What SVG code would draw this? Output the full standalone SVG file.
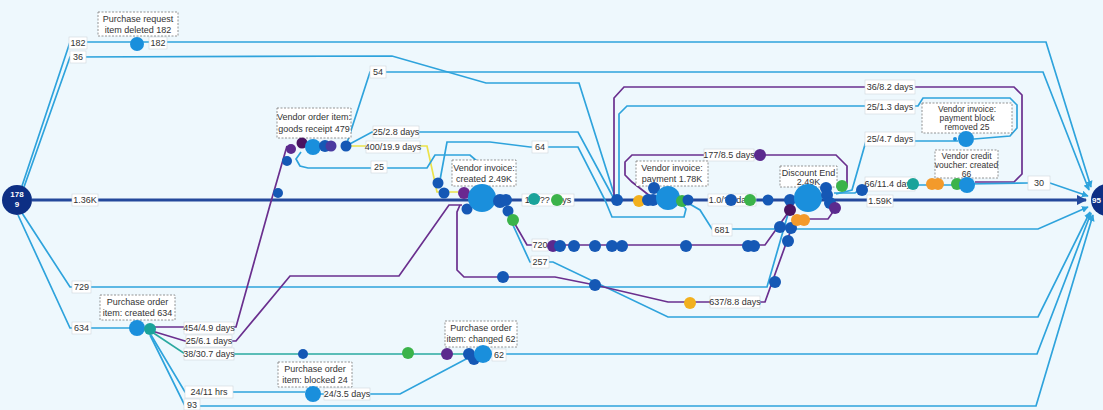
<svg xmlns="http://www.w3.org/2000/svg" width="1103" height="410" viewBox="0 0 1103 410">
<defs>
<style>
.e{fill:none;stroke:#2ea3dc;stroke-width:1.7}
.p{fill:none;stroke:#6a2f8e;stroke-width:1.7}
.t{fill:none;stroke:#2aa9a0;stroke-width:1.7}
.y{fill:none;stroke:#ece24a;stroke-width:1.7}
.m{fill:none;stroke:#24499c;stroke-width:3}
.lb rect{fill:#fff;stroke:#cfd6dc;stroke-width:.6}
.lb text{font-family:"Liberation Sans",Arial,sans-serif;font-size:9px;fill:#333;text-anchor:middle}
.bx{fill:#fff;stroke:#7a7a7a;stroke-width:.8;stroke-dasharray:2 1.5}
.bt{font-family:"Liberation Sans",Arial,sans-serif;font-size:9px;fill:#333;text-anchor:middle}
.b3{font-size:8.5px}
.nt{font-family:"Liberation Sans",Arial,sans-serif;font-size:8px;font-weight:bold;fill:#fff;text-anchor:middle}
.LB{fill:#1a8fdc}.DB{fill:#1558b5}.PU{fill:#5b2a8e}.DP{fill:#4a1461}.TE{fill:#1aa39a}.GR{fill:#3bb34a}.OR{fill:#f39a2b}.YO{fill:#f2b01e}.NV{fill:#0d2f84}
</style>
<marker id="ab" viewBox="0 0 10 10" refX="9" refY="5" markerWidth="4" markerHeight="4" orient="auto"><path d="M0,0 L10,5 L0,10 z" fill="#2ea3dc"/></marker>
<marker id="an" viewBox="0 0 10 10" refX="9" refY="5" markerWidth="3.5" markerHeight="3.5" orient="auto"><path d="M0,0 L10,5 L0,10 z" fill="#24499c"/></marker>
</defs>
<rect width="1103" height="410" fill="#eef8fd"/>

<g id="connectors">
<path class="m" d="M32,200 H1086" marker-end="url(#an)"/>
<path class="e" d="M22,186 L70,42 H1046 L1091,187" marker-end="url(#ab)"/>
<path class="e" d="M24,187 L70,57 L392,56 L486,83 L579,83 L615,197"/>
<path class="e" d="M346,146 L370,72 H1043 L1089,190" marker-end="url(#ab)"/>
<path class="e" d="M22,213 L70,287 H767 L788,214"/>
<path class="e" d="M18,215 L70,328 H130"/>
<path class="p" d="M152,327 H236 L270,205 L287,146"/>
<path class="p" d="M152,331 L185,341 H236 L290,276 H399 L449,205 H462"/>
<path class="t" d="M152,332 L185,354 H470"/>
<path class="e" d="M483,354 H1037 L1091,213" marker-end="url(#ab)"/>
<path class="e" d="M151,335 L185,392 H305"/>
<path class="e" d="M320,394 H400 L468,358"/>
<path class="e" d="M150,335 L185,406 H1036 L1093,215" marker-end="url(#ab)"/>
<path class="e" d="M346,146 L372,132 H578 L613,197"/>
<path class="y" d="M350,146 H427 L437,192 H458"/>
<path class="e" d="M301,152 L296,159 L300,166 L308,168 H427 L435,155 H470 L478,162 V190 L472,197"/>
<path class="e" d="M440,180 L447,142 H490 L530,147 H578 L605,200 L612,217 H684 L686,209 L681,203"/>
<path class="p" d="M508,212 L527,245 H765 L790,210"/>
<path class="e" d="M506,210 L530,262 H553 L668,317 H1038 L1090,212" marker-end="url(#ab)"/>
<path class="p" d="M460,205 L457,212 V270 L464,277 H555 L595,285 L668,302 H765 L792,227"/>
<path class="e" d="M688,203 L700,210 L712,229 H1038 L1088,207" marker-end="url(#ab)"/>
<path class="p" d="M614,198 V98 L624,87 H1014 L1022,95 V174 L1014,182 H975"/>
<path class="e" d="M619,196 V114 L627,106 H918 L923,98 H1010 L1017,105 V128 L1010,136 L974,139"/>
<path class="e" d="M836,194 L852,190 L866,141 H958"/>
<path class="p" d="M650,196 L632,182 L625,175 V162 L632,155 H836 L847,166 V186"/>
<path class="e" d="M834,193 H855 L866,185 H967"/>
<path class="e" d="M967,184 L1028,183 H1050 L1088,196" marker-end="url(#ab)"/>
<path class="p" d="M835,209 L828,219 H800"/>

<g class="lb">
<rect x="69" y="37" width="18" height="12"/><text x="78" y="46">182</text>
<rect x="149" y="37" width="18" height="12"/><text x="158" y="46">182</text>
<rect x="70" y="51" width="16" height="12"/><text x="78" y="60">36</text>
<rect x="72" y="194" width="26" height="12"/><text x="85" y="203">1.36K</text>
<rect x="72" y="281" width="19" height="12"/><text x="81.5" y="290">729</text>
<rect x="72" y="322" width="19" height="12"/><text x="81.5" y="331">634</text>
<rect x="184" y="322" width="50" height="12"/><text x="209" y="331">454/4.9 days</text>
<rect x="186" y="335" width="46" height="12"/><text x="209" y="344">25/6.1 days</text>
<rect x="184" y="348" width="50" height="12"/><text x="209" y="357">38/30.7 days</text>
<rect x="185" y="386" width="48" height="12"/><text x="209" y="395">24/11 hrs</text>
<rect x="184" y="399" width="16" height="11"/><text x="192" y="407.5">93</text>
<rect x="324" y="388" width="46" height="12"/><text x="347" y="397">24/3.5 days</text>
<rect x="492" y="349" width="14" height="12"/><text x="499" y="358">62</text>
<rect x="370" y="66" width="16" height="12"/><text x="378" y="75">54</text>
<rect x="373" y="126" width="46" height="12"/><text x="396" y="135">25/2.8 days</text>
<rect x="366" y="141" width="54" height="12"/><text x="393" y="150">400/19.9 days</text>
<rect x="371" y="161" width="16" height="12"/><text x="379" y="170">25</text>
<rect x="532" y="141" width="16" height="12"/><text x="540" y="150">64</text>
<rect x="522" y="194" width="52" height="12"/><text x="548" y="203">1.0/?? days</text>
<rect x="532" y="239" width="16" height="12"/><text x="540" y="248">720</text>
<rect x="531" y="256" width="18" height="12"/><text x="540" y="265">257</text>
<rect x="710" y="296" width="50" height="12"/><text x="735" y="305">637/8.8 days</text>
<rect x="712" y="224" width="20" height="12"/><text x="722" y="233">681</text>
<rect x="708" y="194" width="48" height="12"/><text x="732" y="203">1.0/?? days</text>
<rect x="704" y="149" width="50" height="12"/><text x="729" y="158">177/8.5 days</text>
<rect x="867" y="195" width="26" height="12"/><text x="880" y="204">1.59K</text>
<rect x="865" y="80" width="50" height="14"/><text x="890" y="90">36/8.2 days</text>
<rect x="865" y="100" width="50" height="14"/><text x="890" y="110">25/1.3 days</text>
<rect x="865" y="132" width="50" height="14"/><text x="890" y="142">25/4.7 days</text>
<rect x="865" y="177" width="50" height="14"/><text x="890" y="187">66/11.4 days</text>
<rect x="1028" y="176" width="22" height="14"/><text x="1039" y="186">30</text>
</g>
</g>

<g id="start"><circle class="NV" cx="17" cy="200" r="15"/><text class="nt" x="17" y="197">178</text><text class="nt" x="17" y="207">9</text></g>
<g id="end"><circle class="NV" cx="1107" cy="200" r="16"/><text class="nt" x="1092" y="203" style="text-anchor:start">95</text></g>

<g id="pr-deleted"><rect class="bx" x="98" y="12" width="80" height="24"/><text class="bt" x="138" y="22">Purchase request</text><text class="bt" x="138" y="33">item deleted 182</text><circle class="LB" cx="137" cy="44" r="7"/></g>

<g id="po-created"><rect class="bx" x="100" y="295" width="75" height="25"/><text class="bt" x="137.5" y="305">Purchase order</text><text class="bt" x="137.5" y="316">item: created 634</text><circle class="LB" cx="137" cy="328" r="8"/><circle class="TE" cx="150" cy="329" r="6"/></g>

<g id="goods-receipt"><rect class="bx" x="277" y="108" width="74" height="30"/><text class="bt" x="314" y="120">Vendor order item:</text><text class="bt" x="314" y="132">goods receipt 479</text>
<circle class="PU" cx="291" cy="149" r="5"/><circle class="DP" cx="302" cy="143" r="5.5"/><circle class="LB" cx="313" cy="147" r="8"/><circle class="DB" cx="325" cy="146" r="6"/><circle fill="#4a3aa0" cx="331" cy="146" r="5.5"/><circle class="DB" cx="346" cy="146" r="5.5"/><circle class="DB" cx="287" cy="161" r="5"/><circle class="DB" cx="278" cy="193" r="5"/></g>

<g id="po-blocked"><rect class="bx" x="278" y="362" width="74" height="25"/><text class="bt" x="315" y="372">Purchase order</text><text class="bt" x="315" y="383">item: blocked 24</text><circle class="LB" cx="313" cy="394" r="8"/><circle class="DB" cx="303" cy="354" r="5"/></g>

<g id="po-changed"><rect class="bx" x="445" y="321" width="72" height="26"/><text class="bt" x="481" y="331">Purchase order</text><text class="bt" x="481" y="342">item: changed 62</text>
<circle class="GR" cx="408" cy="353" r="6"/><circle class="PU" cx="447" cy="354" r="6"/><circle class="DB" cx="469" cy="354" r="6"/><circle class="DB" cx="474" cy="359" r="6"/><circle class="LB" cx="483" cy="354" r="9"/></g>

<g id="vi-created"><rect class="bx" x="452" y="160" width="64" height="26"/><text class="bt" x="484" y="171">Vendor invoice:</text><text class="bt" x="484" y="182">created 2.49K</text>
<circle class="DB" cx="438" cy="183" r="5.5"/><circle class="DB" cx="444" cy="193" r="5.5"/><circle fill="#6a2890" cx="464" cy="193" r="6"/><circle class="DB" cx="467" cy="209" r="5.5"/>
<circle class="LB" cx="482" cy="198" r="14"/><circle class="DB" cx="500" cy="201" r="7"/><circle class="DB" cx="506" cy="200" r="6"/><circle class="DB" cx="508" cy="211" r="5.5"/><circle class="GR" cx="513" cy="220" r="6"/>
<circle class="TE" cx="534" cy="199" r="6"/><circle class="GR" cx="557" cy="200" r="6"/></g>

<g id="waypoints">
<circle class="PU" cx="553" cy="246" r="6"/><circle class="DB" cx="560" cy="246" r="6"/><circle class="DB" cx="574" cy="246" r="6"/><circle class="DB" cx="595" cy="246" r="6"/><circle class="DB" cx="612" cy="246" r="6"/><circle class="DB" cx="622" cy="246" r="6"/><circle class="DB" cx="686" cy="246" r="6"/><circle class="DB" cx="748" cy="246" r="6"/><circle class="DB" cx="754" cy="246" r="6"/>
<circle class="DB" cx="503" cy="277" r="6"/><circle class="DB" cx="595" cy="285" r="6"/><circle class="YO" cx="690" cy="303" r="6"/>
<circle class="DB" cx="775" cy="282" r="6"/><circle class="DB" cx="788" cy="241" r="6"/><circle class="DB" cx="780" cy="227" r="6"/><circle class="DB" cx="791" cy="228" r="6"/>
<circle class="PU" cx="760" cy="155" r="6"/>
</g>

<g id="vi-payment"><rect class="bx" x="636" y="161" width="72" height="25"/><text class="bt" x="672" y="171">Vendor invoice:</text><text class="bt" x="672" y="182">payment 1.78K</text>
<circle class="DB" cx="617" cy="200" r="6"/><circle class="YO" cx="639" cy="201" r="6"/><circle class="DB" cx="648" cy="200" r="6"/><circle class="DB" cx="653" cy="200" r="6"/><circle class="DB" cx="654" cy="188" r="6"/><circle class="LB" cx="668" cy="198" r="12"/><circle class="GR" cx="682" cy="201" r="6"/><circle class="DB" cx="688" cy="200" r="5.5"/>
<circle class="DB" cx="731" cy="200" r="6"/><circle class="GR" cx="750" cy="200" r="6"/><circle class="DB" cx="768" cy="200" r="5.5"/><circle class="DB" cx="790" cy="200" r="6"/></g>

<g id="discount-end"><rect class="bx" x="780" y="166" width="57" height="21"/><text class="bt" x="808.5" y="176">Discount End</text><text class="bt" x="808.5" y="185">2.49K</text>
<circle class="LB" cx="808" cy="198" r="14"/><circle class="DB" cx="826" cy="188" r="6"/><circle class="DB" cx="827" cy="195" r="6"/><circle class="DB" cx="830" cy="203" r="6"/><circle class="PU" cx="835" cy="208" r="6"/><circle class="GR" cx="842" cy="186" r="6"/><circle class="DP" cx="790" cy="210" r="6"/><circle class="OR" cx="797" cy="220" r="6"/><circle class="OR" cx="804" cy="220" r="6"/><circle class="DB" cx="862" cy="190" r="6"/></g>

<g id="payment-block-removed"><rect class="bx" x="922" y="103" width="90" height="30"/><text class="bt b3" x="967" y="112">Vendor invoice:</text><text class="bt b3" x="967" y="121">payment block</text><text class="bt b3" x="967" y="130">removed 25</text><circle class="LB" cx="966" cy="139" r="8"/><circle class="LB" cx="955" cy="139" r="2"/></g>

<g id="credit-voucher"><rect class="bx" x="935" y="150" width="63" height="28"/><text class="bt b3" x="966.5" y="159">Vendor credit</text><text class="bt b3" x="966.5" y="168">voucher: created</text><text class="bt b3" x="966.5" y="177">66</text>
<circle class="TE" cx="913" cy="184" r="6"/><circle class="OR" cx="932" cy="184" r="6"/><circle class="OR" cx="938" cy="184" r="6"/><circle class="GR" cx="957" cy="184" r="6"/><circle class="LB" cx="967" cy="185" r="8"/></g>
</svg>
